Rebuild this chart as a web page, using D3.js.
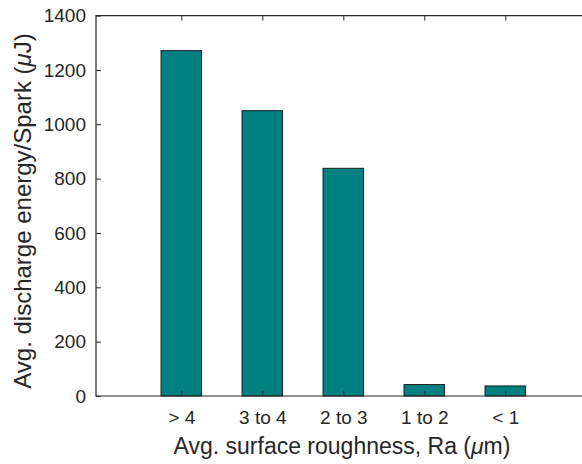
<!DOCTYPE html>
<html>
<head>
<meta charset="utf-8">
<script src="https://cdn.jsdelivr.net/npm/d3@7"></script>
<style>
  body { margin: 0; background: #fff; }
  svg { display: block; font-family: "Liberation Sans", Arial, sans-serif; }
</style>
</head>
<body>
<svg id="chart" width="582" height="464"></svg>
<script>
// data
var categories = ['> 4', '3 to 4', '2 to 3', '1 to 2', '< 1'];
var energy = [1271, 1050, 838, 42, 37];
var yTicks = [0, 200, 400, 600, 800, 1000, 1200, 1400];

var svg = d3.select('#chart');
var axisColor = '#262626';
var plotLeft = 96, plotTop = 15.6, plotBottom = 396, plotRight = 590;

// bar positions: category index 1..5
var x = d3.scaleLinear().domain([1, 5]).range([181.3, 505.3]);
var step = x(2) - x(1);
var barW = step * 0.5;
var y = d3.scaleLinear().domain([0, 1400]).range([plotBottom, plotTop]);

// bars
svg.append('g').selectAll('rect')
  .data(energy)
  .enter().append('rect')
  .attr('x', (d, i) => x(i + 1) - barW / 2)
  .attr('y', d => y(d))
  .attr('width', barW)
  .attr('height', d => y(0) - y(d))
  .attr('fill', '#008080')
  .attr('stroke', '#1a1a1a')
  .attr('stroke-width', 1);

// left axis, ticks inward
var yAxis = d3.axisLeft(y).tickValues(yTicks).tickFormat(d3.format('d'))
  .tickSize(-5).tickPadding(10).tickSizeOuter(0);
var gy = svg.append('g').attr('transform', `translate(${plotLeft},0)`).call(yAxis);
gy.select('.domain').remove();
gy.selectAll('line').attr('stroke', axisColor);
gy.selectAll('text').attr('fill', axisColor).style('font-size', '19px');

// bottom axis
var xAxis = d3.axisBottom(x).tickValues([1, 2, 3, 4, 5])
  .tickFormat((d, i) => categories[i]).tickSize(-5).tickPadding(15).tickSizeOuter(0);
var gx = svg.append('g').attr('transform', `translate(0,${plotBottom})`).call(xAxis);
gx.select('.domain').remove();
gx.selectAll('line').attr('stroke', axisColor);
gx.selectAll('text').attr('fill', axisColor).style('font-size', '19px');

// top ticks (mirrored)
var gt = svg.append('g').attr('transform', `translate(0,${plotTop})`)
  .call(d3.axisTop(x).tickValues([1, 2, 3, 4, 5]).tickSize(-5).tickFormat(''));
gt.select('.domain').remove();
gt.selectAll('line').attr('stroke', axisColor);

// frame lines
svg.append('path')
  .attr('d', `M${plotRight},${plotTop}H${plotLeft}V${plotBottom}H${plotRight}`)
  .attr('fill', 'none')
  .attr('stroke', axisColor)
  .attr('stroke-width', 1.2);

// axis labels
var xl = svg.append('text')
  .attr('x', 342).attr('y', 454)
  .attr('text-anchor', 'middle')
  .attr('fill', axisColor)
  .style('font-size', '23px');
xl.append('tspan').text('Avg. surface roughness, Ra (');
xl.append('tspan').style('font-style', 'italic').text('\u03bc');
xl.append('tspan').text('m)');

var yl = svg.append('text')
  .attr('transform', 'translate(31,211) rotate(-90)')
  .attr('text-anchor', 'middle')
  .attr('fill', axisColor)
  .style('font-size', '24px');
yl.append('tspan').text('Avg. discharge energy/Spark (');
yl.append('tspan').style('font-style', 'italic').text('\u03bc');
yl.append('tspan').text('J)');
</script>
</body>
</html>
